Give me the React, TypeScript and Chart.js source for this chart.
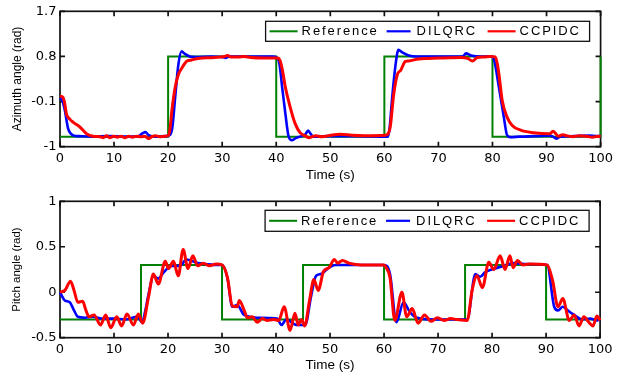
import React, { useEffect, useRef } from "react";
import { Chart, registerables } from "chart.js";

Chart.register(...registerables);

// ---------------- data ----------------
const timeTicks = [0, 10, 20, 30, 40, 50, 60, 70, 80, 90, 100];
const azimuthTicks = [-1, -0.1, 0.8, 1.7];
const pitchTicks = [-0.5, 0, 0.5, 1];
const seriesNames = ["Reference", "DILQRC", "CCPIDC"];

// Azimuth — reference (square wave)
const azRefT = [0, 20, 20, 40, 40, 60, 60, 80, 80, 100, 100];
const azRefV = [-0.8, -0.8, 0.8, 0.8, -0.8, -0.8, 0.8, 0.8, -0.8, -0.8, 0.8];

// Azimuth — DILQRC
const azDilT = [0, 0.5, 0.9, 1.5, 2.0, 2.6, 3.6, 6, 9, 12, 14.5, 15.3, 15.8, 16.4, 17.6, 19.7, 20.4, 20.8, 21.3, 21.9, 22.5, 23.1, 24, 25, 28, 30, 30.6, 31.4, 35, 39.5, 40.2, 40.6, 41.1, 41.7, 42.3, 42.9, 43.6, 44.4, 45.4, 45.9, 46.4, 46.9, 50, 55, 60.2, 60.7, 61.0, 61.4, 62.0, 62.6, 63.3, 64.5, 66, 70, 74.5, 75.1, 76, 78, 79.8, 80.3, 81.2, 82.1, 82.7, 83.3, 85, 88, 90.5, 91.2, 91.8, 92.5, 95, 97.9, 100];
const azDilV = [-0.02, -0.1, -0.28, -0.64, -0.74, -0.78, -0.79, -0.8, -0.79, -0.8, -0.79, -0.73, -0.71, -0.77, -0.8, -0.79, -0.76, -0.6, -0.02, 0.64, 0.9, 0.85, 0.8, 0.79, 0.8, 0.79, 0.77, 0.8, 0.8, 0.8, 0.77, 0.65, 0.18, -0.35, -0.8, -0.87, -0.83, -0.8, -0.75, -0.68, -0.75, -0.8, -0.79, -0.79, -0.8, -0.8, -0.6, -0.08, 0.57, 0.93, 0.88, 0.82, 0.8, 0.8, 0.8, 0.86, 0.82, 0.8, 0.8, 0.73, 0.18, -0.41, -0.77, -0.81, -0.8, -0.79, -0.78, -0.8, -0.84, -0.8, -0.79, -0.78, -0.79];

// Azimuth — CCPIDC
const azCcpT = [0, 0.5, 0.8, 1.2, 1.8, 2.4, 3.6, 4.9, 6.1, 7.4, 8.0, 8.6, 9.2, 9.9, 10.6, 11.3, 12, 12.7, 13.4, 14.2, 15, 15.7, 16.4, 17, 17.6, 18.4, 19.4, 20.1, 20.4, 20.7, 21.3, 21.9, 22.5, 23.4, 24.3, 25.5, 28.6, 30.5, 31, 31.6, 33, 34, 35.3, 37.7, 40.2, 40.7, 41.1, 41.7, 42.6, 43.5, 44.4, 45.3, 46.1, 47.3, 48.5, 50.1, 51.9, 54, 56.2, 60.2, 60.8, 61.1, 61.7, 62.4, 63, 63.9, 64.5, 66.3, 68.1, 71, 74.2, 75.4, 76.3, 77.2, 78.4, 79.6, 80.5, 80.9, 81.2, 81.8, 82.7, 83.6, 85.2, 87.6, 90.6, 91.2, 92.2, 93, 93.7, 94.9, 96, 97.3, 98.5, 99.6, 100];
const azCcpV = [0.01, -0.01, -0.1, -0.35, -0.45, -0.51, -0.6, -0.74, -0.79, -0.8, -0.82, -0.78, -0.82, -0.79, -0.81, -0.79, -0.82, -0.79, -0.81, -0.79, -0.8, -0.79, -0.84, -0.8, -0.78, -0.8, -0.79, -0.77, -0.6, -0.28, 0.18, 0.44, 0.56, 0.7, 0.73, 0.76, 0.78, 0.8, 0.82, 0.79, 0.79, 0.8, 0.78, 0.77, 0.77, 0.72, 0.55, 0.18, -0.22, -0.54, -0.72, -0.78, -0.82, -0.78, -0.8, -0.77, -0.75, -0.77, -0.78, -0.77, -0.72, -0.6, 0.02, 0.44, 0.52, 0.7, 0.71, 0.75, 0.76, 0.77, 0.78, 0.76, 0.71, 0.78, 0.79, 0.8, 0.79, 0.65, 0.44, -0.08, -0.41, -0.57, -0.67, -0.72, -0.74, -0.69, -0.79, -0.76, -0.78, -0.8, -0.78, -0.79, -0.81, -0.79, -0.8];

// Pitch — reference (square wave)
const piRefT = [0, 15, 15, 30, 30, 45, 45, 60, 60, 75, 75, 90, 90, 100];
const piRefV = [-0.3, -0.3, 0.3, 0.3, -0.3, -0.3, 0.3, 0.3, -0.3, -0.3, 0.3, 0.3, -0.3, -0.3];

// Pitch — DILQRC
const piDilT = [0, 0.9, 1.8, 2.6, 3.3, 4.6, 6, 8, 10, 12, 14.3, 15.2, 15.8, 16.4, 17.3, 18.2, 19.2, 20.7, 22.2, 23.4, 25.5, 27, 29, 30, 31, 31.9, 32.8, 34.1, 36.5, 40.2, 41, 41.9, 43.8, 45.4, 46.5, 47.4, 48.3, 49.8, 51, 55, 60, 61.1, 62.3, 63.6, 64.8, 65.7, 66.9, 70, 75, 75.4, 76.9, 77.8, 78.7, 79.9, 81.7, 84.1, 86, 90.2, 91.5, 92.2, 93.1, 94, 95.2, 96.7, 98.2, 99.4, 100];
const piDilV = [0, -0.09, -0.11, -0.2, -0.27, -0.28, -0.27, -0.29, -0.29, -0.3, -0.27, -0.33, -0.2, -0.02, 0.18, 0.15, 0.22, 0.29, 0.29, 0.36, 0.32, 0.31, 0.3, 0.3, 0.16, -0.16, -0.14, -0.25, -0.28, -0.29, -0.36, -0.3, -0.36, -0.36, -0.04, 0.18, 0.2, 0.27, 0.3, 0.3, 0.3, 0.2, -0.33, -0.11, -0.22, -0.27, -0.29, -0.3, -0.3, -0.3, 0.2, 0.17, 0.22, 0.25, 0.28, 0.32, 0.31, 0.3, -0.16, -0.2, -0.16, -0.2, -0.25, -0.3, -0.29, -0.31, -0.3];

// Pitch — CCPIDC
const piCcpT = [0, 0.9, 1.95, 2.6, 3.3, 4.2, 4.8, 5.4, 6.3, 7.5, 8.45, 9.4, 10.5, 11.4, 12.4, 13.6, 14.5, 15.3, 16.4, 17.3, 18.2, 19.5, 20.1, 21, 21.9, 22.8, 23.7, 24.6, 25.5, 26.5, 27.7, 28.9, 30, 31, 31.9, 32.8, 33.2, 34.1, 34.7, 35.6, 36.5, 37.5, 38.3, 39.6, 40.5, 41.5, 42.6, 43.5, 44.1, 44.7, 45.3, 46.2, 47, 47.8, 48.8, 49.8, 50.8, 51.4, 52.3, 53.5, 55.9, 60, 60.3, 61.1, 62, 63.3, 64.2, 65.2, 66.3, 67.5, 68.7, 69.9, 71.1, 72.3, 73.5, 75.4, 76.3, 77.2, 78.2, 79.4, 80.3, 81.5, 82.4, 83.3, 83.9, 84.7, 85.7, 86.9, 90.2, 91.2, 92.2, 93.1, 94.3, 95.2, 96.1, 97, 97.9, 98.7, 99.4, 100];
const piCcpV = [0, 0.02, 0.12, 0.02, -0.11, -0.1, -0.2, -0.27, -0.25, -0.36, -0.25, -0.39, -0.27, -0.37, -0.24, -0.36, -0.24, -0.34, -0.05, 0.2, 0.09, 0.34, 0.26, 0.34, 0.18, 0.47, 0.26, 0.4, 0.29, 0.32, 0.29, 0.31, 0.3, 0.16, -0.15, -0.16, -0.09, -0.2, -0.28, -0.27, -0.33, -0.29, -0.31, -0.3, -0.31, -0.16, -0.42, -0.23, -0.36, -0.3, -0.37, -0.09, 0.14, 0.02, 0.23, 0.27, 0.36, 0.32, 0.35, 0.32, 0.3, 0.3, 0.28, 0.16, -0.31, 0, -0.27, -0.18, -0.34, -0.25, -0.32, -0.28, -0.31, -0.29, -0.3, -0.31, 0.02, 0.18, 0.05, 0.33, 0.25, 0.4, 0.25, 0.4, 0.27, 0.35, 0.3, 0.31, 0.3, 0.13, -0.16, -0.07, -0.31, -0.25, -0.37, -0.27, -0.33, -0.37, -0.26, -0.31];

// ---------------- styling ----------------
const GREEN = "#008000";
const BLUE = "#0000ff";
const RED = "#ff0000";
const AXIS = "#111111";
const TEXT = "#000000";
const TICK_FONT = { family: "'DejaVu Sans', sans-serif", size: 13 };

const toPoints = (t: number[], v: number[]) => t.map((x, i) => ({ x, y: v[i] }));

const framePlugin = {
  id: "matlabFrame",
  beforeDatasetsDraw(chart: any) {
    const { ctx, chartArea: a, scales } = chart;
    ctx.save();
    ctx.strokeStyle = AXIS;
    ctx.lineWidth = 1.7;
    ctx.strokeRect(a.left, a.top, a.right - a.left, a.bottom - a.top);
    const L = 5;
    ctx.beginPath();
    scales.x.ticks.forEach((t: any) => {
      const x = scales.x.getPixelForValue(t.value);
      ctx.moveTo(x, a.bottom);
      ctx.lineTo(x, a.bottom - L);
      ctx.moveTo(x, a.top);
      ctx.lineTo(x, a.top + L);
    });
    scales.y.ticks.forEach((t: any) => {
      const y = scales.y.getPixelForValue(t.value);
      ctx.moveTo(a.left, y);
      ctx.lineTo(a.left + L, y);
      ctx.moveTo(a.right, y);
      ctx.lineTo(a.right - L, y);
    });
    ctx.stroke();
    ctx.restore();
  },
};

const legendPlugin = {
  id: "matlabLegend",
  afterDatasetsDraw(chart: any, _args: any, opts: any) {
    const { ctx, chartArea: a } = chart;
    const right = a.right - 11;
    const left = right - 324;
    const top = a.top + opts.offsetTop;
    const h = opts.height;
    ctx.save();
    ctx.fillStyle = "#ffffff";
    ctx.fillRect(left, top, right - left, h);
    ctx.strokeStyle = AXIS;
    ctx.lineWidth = 1.3;
    ctx.strokeRect(left, top, right - left, h);
    const slots = [
      { l0: 4, l1: 32, tx: 36 },
      { l0: 121, l1: 145, tx: 151 },
      { l0: 222, l1: 250, tx: 254 },
    ];
    const cy = top + h / 2;
    chart.data.datasets.forEach((ds: any, i: number) => {
      const s = slots[i];
      ctx.strokeStyle = ds.borderColor;
      ctx.lineWidth = i === 0 ? 2 : 2.2;
      ctx.beginPath();
      ctx.moveTo(left + s.l0, cy);
      ctx.lineTo(left + s.l1, cy);
      ctx.stroke();
      ctx.fillStyle = TEXT;
      ctx.font = "13px 'Liberation Sans', Arial, sans-serif";
      (ctx as any).letterSpacing = "1.9px";
      ctx.textAlign = "left";
      ctx.textBaseline = "middle";
      ctx.fillText(ds.label, left + s.tx, cy + 0.5);
      (ctx as any).letterSpacing = "0px";
    });
    ctx.restore();
  },
};

type PanelCfg = {
  refT: number[]; refV: number[];
  dilT: number[]; dilV: number[];
  ccpT: number[]; ccpV: number[];
  yTicks: number[]; yTitle: string; yTitleSize: number;
  padTop: number; xAxisH: number; xTickPad: number; xTitlePad: number;
  legendTop: number; legendH: number;
};

function makeConfig(p: PanelCfg): any {
  return {
    type: "line",
    data: {
      datasets: [
        { label: seriesNames[0], data: toPoints(p.refT, p.refV), borderColor: GREEN, borderWidth: 2, tension: 0, pointRadius: 0, order: 3, clip: false },
        { label: seriesNames[1], data: toPoints(p.dilT, p.dilV), borderColor: BLUE, borderWidth: 2.6, cubicInterpolationMode: "monotone", pointRadius: 0, order: 2, clip: false },
        { label: seriesNames[2], data: toPoints(p.ccpT, p.ccpV), borderColor: RED, borderWidth: 3, cubicInterpolationMode: "monotone", pointRadius: 0, order: 1, clip: false },
      ],
    },
    options: {
      animation: false,
      responsive: false,
      events: [],
      layout: { padding: { left: 0, right: 9, top: p.padTop, bottom: 0 } },
      plugins: {
        legend: { display: false },
        tooltip: { enabled: false },
        matlabLegend: { offsetTop: p.legendTop, height: p.legendH },
      },
      scales: {
        x: {
          type: "linear",
          min: 0,
          max: 100,
          afterBuildTicks: (s: any) => { s.ticks = timeTicks.map((v) => ({ value: v })); },
          afterFit: (s: any) => { s.height = p.xAxisH; },
          grid: { display: false, drawTicks: false },
          border: { display: false },
          ticks: { padding: p.xTickPad, font: TICK_FONT, color: TEXT, maxRotation: 0, autoSkip: false, callback: (v: any) => String(v) },
          title: { display: true, text: "Time (s)", color: TEXT, font: { family: "'Liberation Sans', Arial, sans-serif", size: 13.5 }, padding: { top: 0, bottom: p.xTitlePad } },
        },
        y: {
          type: "linear",
          min: p.yTicks[0],
          max: p.yTicks[p.yTicks.length - 1],
          afterBuildTicks: (s: any) => { s.ticks = p.yTicks.map((v) => ({ value: v })); },
          afterFit: (s: any) => { s.width = 60; },
          grid: { display: false, drawTicks: false },
          border: { display: false },
          ticks: { padding: 3.5, font: TICK_FONT, color: TEXT, autoSkip: false, callback: (v: any) => String(v) },
          title: { display: true, text: p.yTitle, color: TEXT, font: { family: "'Liberation Sans', Arial, sans-serif", size: p.yTitleSize }, padding: { top: 10, bottom: 0 } },
        },
      },
    },
    plugins: [framePlugin, legendPlugin],
  };
}

function Panel({ cfg, top, height }: { cfg: PanelCfg; top: number; height: number }) {
  const ref = useRef<HTMLCanvasElement>(null);
  useEffect(() => {
    const chart = new Chart(ref.current as HTMLCanvasElement, makeConfig(cfg));
    return () => chart.destroy();
  }, []);
  return (
    <div style={{ position: "absolute", left: 0, top, width: 617, height }}>
      <canvas ref={ref} width={617} height={height} style={{ display: "block" }} />
    </div>
  );
}

const azimuthCfg: PanelCfg = {
  refT: azRefT, refV: azRefV, dilT: azDilT, dilV: azDilV, ccpT: azCcpT, ccpV: azCcpV,
  yTicks: azimuthTicks, yTitle: "Azimuth angle (rad)", yTitleSize: 12,
  padTop: 9, xAxisH: 43.3, xTickPad: 4, xTitlePad: 6.5, legendTop: 10, legendH: 20,
};

const pitchCfg: PanelCfg = {
  refT: piRefT, refV: piRefV, dilT: piDilT, dilV: piDilV, ccpT: piCcpT, ccpV: piCcpV,
  yTicks: pitchTicks, yTitle: "Pitch angle (rad)", yTitleSize: 11.5,
  padTop: 9.3, xAxisH: 40.3, xTickPad: 4.5, xTitlePad: 5, legendTop: 9, legendH: 21,
};

export default function App() {
  return (
    <div style={{ position: "absolute", left: 0, top: 0, width: 617, height: 378, background: "#fff" }}>
      <Panel cfg={azimuthCfg} top={0} height={190} />
      <Panel cfg={pitchCfg} top={190} height={188} />
    </div>
  );
}
